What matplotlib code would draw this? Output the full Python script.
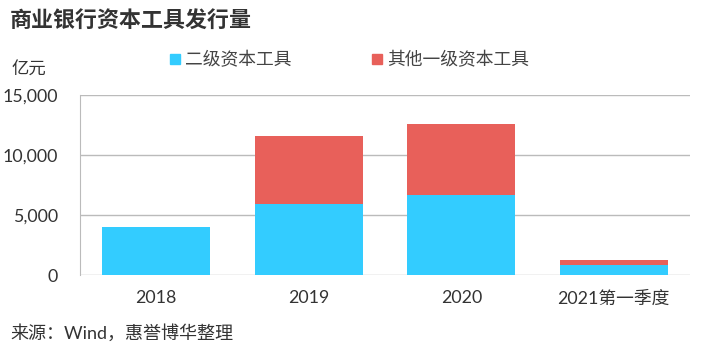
import matplotlib
matplotlib.use('Agg')
import matplotlib.pyplot as plt
import matplotlib.ticker as mticker
from matplotlib.lines import Line2D

plt.rcParams['font.family'] = ['Lato', 'Noto Sans CJK SC', 'DejaVu Sans']

categories = ['2018', '2019', '2020', '2021第一季度']
tier2 = [4000, 5900, 6640, 800]
other_tier1 = [0, 5700, 5940, 450]
series_names = ['二级资本工具', '其他一级资本工具']
yticks = [0, 5000, 10000, 15000]

colors = {'tier2': '#33CCFF', 'tier1': '#E8605A'}
text_color = '#333333'
grid_color = '#BBBBBB'

fig = plt.figure(figsize=(7.03, 3.61), dpi=100)
ax = fig.add_axes([80 / 703, 1 - 275 / 361, 610 / 703, 180 / 361])

x = range(len(categories))
ax.bar(x, tier2, width=0.71, color=colors['tier2'], zorder=3)
ax.bar(x, other_tier1, width=0.71, bottom=tier2, color=colors['tier1'], zorder=3)

ax.set_xlim(-0.5, len(categories) - 0.5)
ax.set_ylim(0, 15000)
ax.set_yticks(yticks)
ax.yaxis.set_major_formatter(mticker.FuncFormatter(lambda v, p: f'{int(v):,}'))
ax.set_xticks(list(x))
ax.set_xticklabels(categories)
ax.tick_params(axis='both', length=0, labelsize=12.8, colors=text_color)
ax.tick_params(axis='x', pad=11)
ax.tick_params(axis='y', pad=16)
ax.grid(axis='y', color=grid_color, linewidth=1, zorder=0)
for side in ['top', 'right', 'bottom']:
    ax.spines[side].set_visible(False)
ax.spines['left'].set_color(grid_color)

handles = [Line2D([], [], marker='s', linestyle='none', markersize=7.5, color=colors['tier2']),
           Line2D([], [], marker='s', linestyle='none', markersize=7.5, color=colors['tier1'])]
fig.legend(handles, series_names, loc='center', bbox_to_anchor=(0.4964, 0.834), ncol=2,
           frameon=False, fontsize=12.8, handlelength=0.7, handletextpad=0.2,
           columnspacing=4.5, labelcolor='#444444')

fig.text(10 / 703, 1 - 20 / 361, '商业银行资本工具发行量', fontsize=15.8, fontweight='bold',
         color=text_color, va='center', ha='left')
fig.text(12 / 703, 1 - 70 / 361, '亿元', fontsize=12.5, color=text_color, va='center', ha='left')
fig.text(10 / 703, 1 - 333 / 361, '来源：Wind，惠誉博华整理', fontsize=13, color=text_color,
         va='center', ha='left')

fig.savefig('out.png', dpi=100, facecolor='white')
plt.close(fig)
